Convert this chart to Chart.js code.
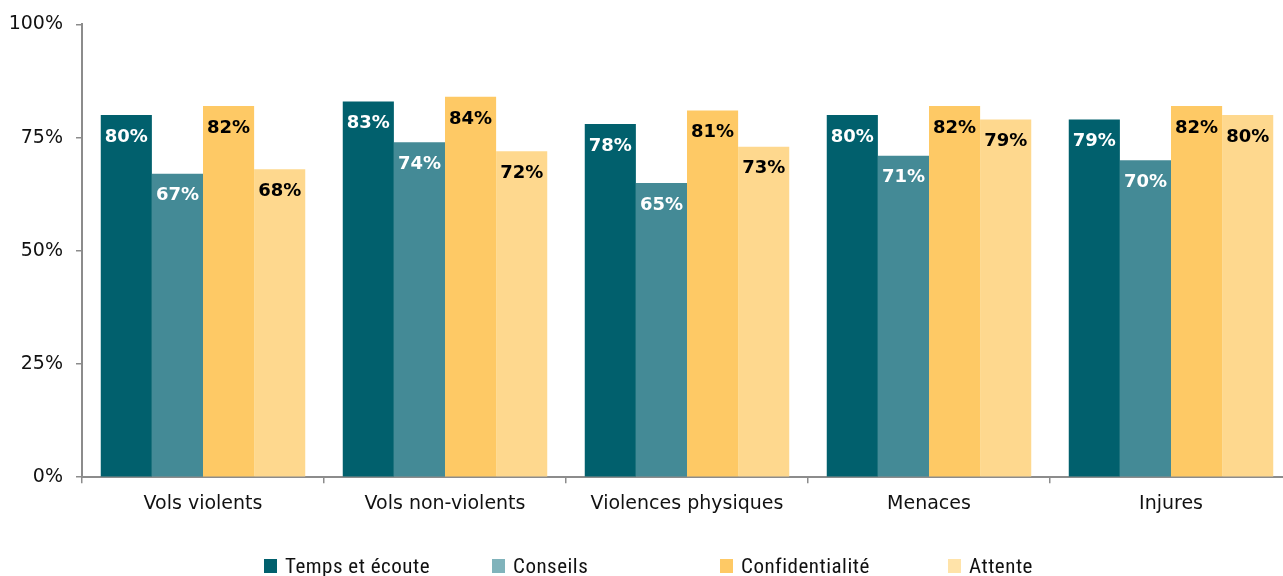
<!DOCTYPE html>
<html lang="fr">
<head>
<meta charset="utf-8">
<script src="https://cdn.jsdelivr.net/npm/chart.js@4"></script>
<style>
    html, body { margin: 0; padding: 0; background: #fff; overflow: hidden; }
    #wrap { position: relative; width: 1292px; height: 576px; }
    #legend {
        position: absolute; left: 264px; top: 554px;
        display: flex; font-family: "Liberation Sans Narrow", "Roboto Condensed", "Liberation Sans", sans-serif;
        font-size: 21px; letter-spacing: 0.5px; color: #111;
    }
    #legend .item { width: 228px; display: flex; align-items: center; }
    #legend .box { width: 13px; height: 14px; margin-right: 8px; }
</style>
</head>
<body>
<div id="wrap">
    <canvas id="satisfactionChart"></canvas>
    <div id="legend"></div>
</div>
<script>
const categories = ["Vols violents", "Vols non-violents", "Violences physiques", "Menaces", "Injures"];

const seriesNames = ["Temps et écoute", "Conseils", "Confidentialité", "Attente"];

const tempsEcoute = [80, 83, 78, 80, 79];
const conseils = [67, 74, 65, 71, 70];
const confidentialite = [82, 84, 81, 82, 82];
const attente = [68, 72, 73, 79, 80];

const yTicks = [0, 25, 50, 75, 100];

const barColors = ["#01606d", "#448a96", "#fec965", "#fed88e"];
const legendColors = ["#01606d", "#80b3bb", "#fec965", "#ffe3a9"];
const labelColors = ["#ffffff", "#ffffff", "#000000", "#000000"];

const seriesValues = [tempsEcoute, conseils, confidentialite, attente];

// value labels drawn just under the top of each bar
const barValueLabels = {
    id: "barValueLabels",
    afterDatasetsDraw(chart) {
        const ctx = chart.ctx;
        ctx.save();
        ctx.font = "bold 18px 'DejaVu Sans', Verdana, sans-serif";
        ctx.textAlign = "center";
        ctx.textBaseline = "middle";
        chart.data.datasets.forEach((ds, i) => {
            const meta = chart.getDatasetMeta(i);
            ctx.fillStyle = labelColors[i];
            meta.data.forEach((bar, j) => {
                ctx.fillText(ds.data[j] + "%", bar.x, bar.y + 22);
            });
        });
        ctx.restore();
    }
};

// simple html legend with fixed-width columns
const htmlLegend = {
    id: "htmlLegend",
    afterUpdate(chart) {
        const el = document.getElementById("legend");
        el.innerHTML = "";
        chart.data.datasets.forEach((ds, i) => {
            const item = document.createElement("div");
            item.className = "item";
            const box = document.createElement("span");
            box.className = "box";
            box.style.background = legendColors[i];
            const txt = document.createElement("span");
            txt.textContent = ds.label;
            item.appendChild(box);
            item.appendChild(txt);
            el.appendChild(item);
        });
    }
};

const axisColor = "#8c8c8c";
const tickFont = { family: "'DejaVu Sans', Verdana, sans-serif", size: 19 };

new Chart(document.getElementById("satisfactionChart"), {
    type: "bar",
    data: {
        labels: categories,
        datasets: seriesNames.map((name, i) => ({
            label: name,
            data: seriesValues[i],
            backgroundColor: barColors[i],
            borderWidth: 0,
            categoryPercentage: 0.845,
            barPercentage: 1.0
        }))
    },
    options: {
        responsive: true,
        maintainAspectRatio: false,
        animation: false,
        layout: {
            padding: { top: 12, bottom: 52, left: 0, right: 0 }
        },
        plugins: {
            legend: { display: false },
            tooltip: { enabled: false }
        },
        scales: {
            x: {
                grid: {
                    drawOnChartArea: false,
                    drawTicks: true,
                    tickLength: 6,
                    color: axisColor,
                    lineWidth: 1.5
                },
                border: { color: axisColor, width: 2 },
                ticks: {
                    color: "#111",
                    font: tickFont,
                    padding: 9,
                    maxRotation: 0
                }
            },
            y: {
                min: 0,
                max: 100,
                afterBuildTicks(axis) {
                    axis.ticks = yTicks.map(v => ({ value: v }));
                },
                afterFit(axis) {
                    axis.width = 82;
                },
                grid: {
                    drawOnChartArea: false,
                    drawTicks: true,
                    tickLength: 6,
                    color: axisColor,
                    lineWidth: 1.5
                },
                border: { color: axisColor, width: 2 },
                ticks: {
                    color: "#111",
                    font: tickFont,
                    padding: 13,
                    callback: v => v + "%"
                }
            }
        }
    },
    plugins: [barValueLabels, htmlLegend]
});
</script>
</body>
</html>
